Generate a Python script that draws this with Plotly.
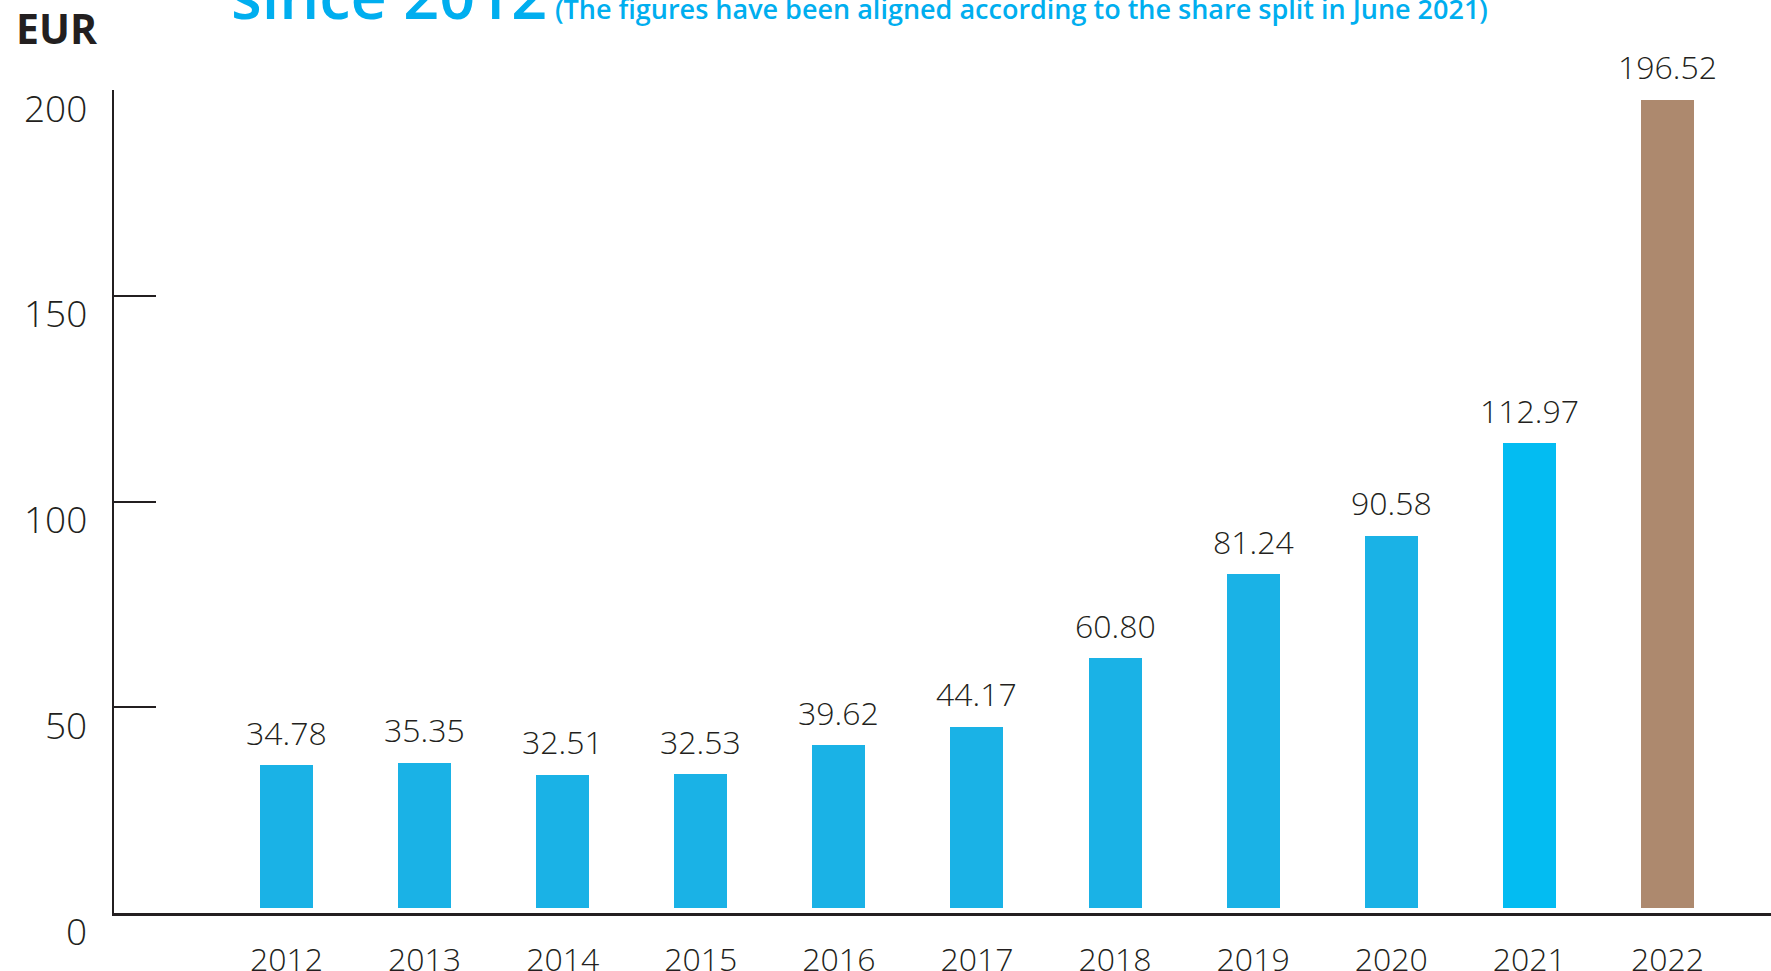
import plotly.graph_objects as go

years = ["2012", "2013", "2014", "2015", "2016", "2017", "2018", "2019", "2020", "2021", "2022"]
prices = [34.78, 35.35, 32.51, 32.53, 39.62, 44.17, 60.80, 81.24, 90.58, 112.97, 196.52]
bar_colors = ["#1AB2E6"] * 9 + ["#03BCF2", "#AD896E"]
y_ticks = [0, 50, 100, 150, 200]

title_main = "since 2012"
title_note = "(The figures have been aligned according to the share split in June 2021)"
unit_label = "EUR"

W, H = 1771, 971
L, R, T, B = 114, 0, 90.3, 57.6
plot_h = H - T - B
plot_w = W - L - R
px_per_unit = plot_h / 200.0
bar_offset_units = 4.7 / px_per_unit

DARK = "#231F20"
BLUE = "#00AEEF"
FONT = "Open Sans"

def px_to_paper_y(py):
    return (H - B - py) / plot_h

def px_to_paper_x(px):
    return (px - L) / plot_w

fig = go.Figure()
fig.add_trace(go.Bar(
    x=list(range(len(years))), y=prices, width=0.384,
    marker=dict(color=bar_colors, line=dict(width=0)),
    yaxis="y2", showlegend=False, hoverinfo="skip",
))

annotations = []
for i, v in enumerate(prices):
    annotations.append(dict(
        x=i, y=v, xref="x", yref="y2", text=f"{v:.2f}", showarrow=False,
        yanchor="middle", yshift=33,
        font=dict(family=FONT, size=32, color=DARK, weight=300),
    ))

for t in y_ticks:
    annotations.append(dict(
        x=px_to_paper_x(89), y=t, xref="paper", yref="y",
        xanchor="right", yanchor="middle", yshift=-17, text=str(t),
        showarrow=False, font=dict(family=FONT, size=37, color=DARK, weight=300),
    ))

annotations.append(dict(
    x=px_to_paper_x(14), y=px_to_paper_y(28), xref="paper", yref="paper",
    xanchor="left", yanchor="middle", text=unit_label, showarrow=False,
    font=dict(family=FONT, size=41, color=DARK, weight=700),
))
annotations.append(dict(
    x=px_to_paper_x(229), y=px_to_paper_y(-5), xref="paper", yref="paper",
    xanchor="left", yanchor="middle", text=title_main, showarrow=False,
    font=dict(family=FONT, size=63, color=BLUE, weight=600),
))
annotations.append(dict(
    x=px_to_paper_x(553), y=px_to_paper_y(9), xref="paper", yref="paper",
    xanchor="left", yanchor="middle", text=title_note, showarrow=False,
    font=dict(family=FONT, size=27, color=BLUE, weight=600),
))

fig.update_layout(
    width=W, height=H,
    margin=dict(l=L, r=R, t=T, b=B, pad=0),
    paper_bgcolor="white", plot_bgcolor="white",
    annotations=annotations,
    xaxis=dict(
        range=[-1.249, 10.75], automargin=False,
        tickmode="array", tickvals=list(range(len(years))), ticktext=years,
        showline=True, linecolor=DARK, linewidth=2.5,
        ticks="", showgrid=False, zeroline=False,
        tickfont=dict(family=FONT, size=32, color=DARK, weight=300),
        ticklabelstandoff=17,
    ),
    yaxis=dict(
        range=[0, 200], tickvals=y_ticks, showticklabels=False, automargin=False,
        showline=True, linecolor=DARK, linewidth=2,
        ticks="inside", ticklen=42, tickwidth=2, tickcolor=DARK,
        showgrid=False, zeroline=False,
    ),
    yaxis2=dict(
        range=[-bar_offset_units, 200 - bar_offset_units],
        overlaying="y", visible=False, showgrid=False, zeroline=False,
    ),
    bargap=0,
)

fig.write_html("out.html", config={"displayModeBar": False},
               post_script="document.body.style.margin='0px';")
